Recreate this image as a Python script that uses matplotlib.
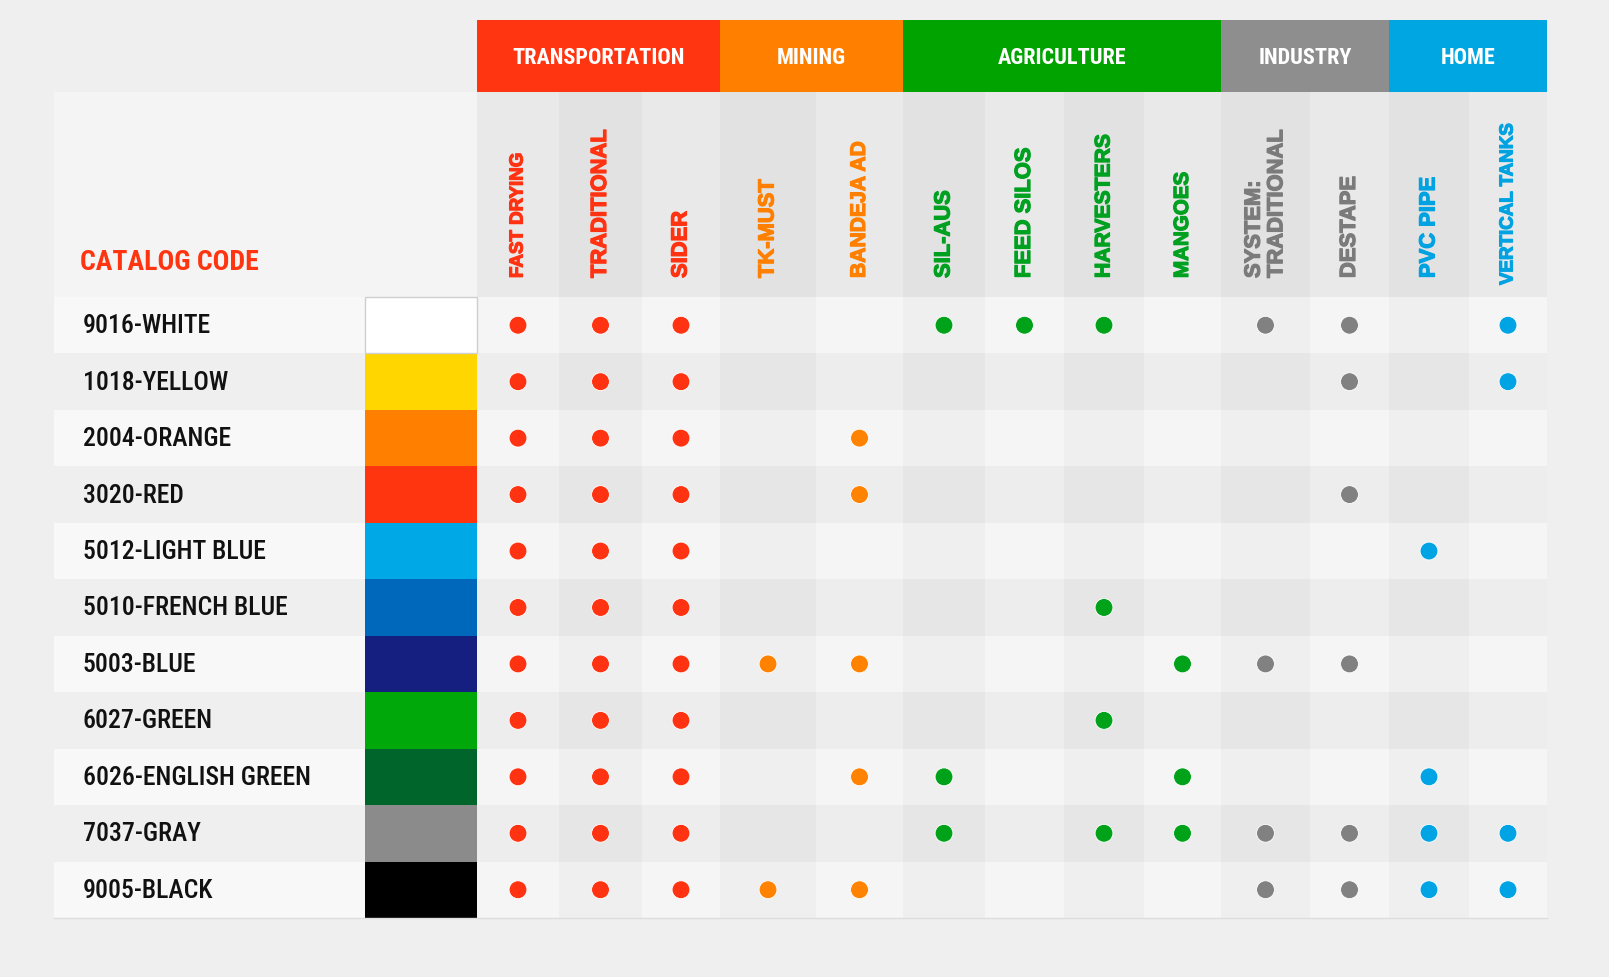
import matplotlib.pyplot as plt
import matplotlib.patheffects as pe
from matplotlib.patches import Rectangle

# ---------------- data ----------------
categories = ['TRANSPORTATION', 'MINING', 'AGRICULTURE', 'INDUSTRY', 'HOME']
category_colors = ['#ff3410', '#ff8000', '#00a300', '#8e8e8e', '#00a6e2']
label_colors = ['#ff3311', '#ff8000', '#00a020', '#7b7b7b', '#00a2e2']
dot_colors = ['#ff3311', '#ff8200', '#00a21a', '#818181', '#00a4e4']

# columns per category
columns = [
    ['FAST DRYING', 'TRADITIONAL', 'SIDER'],
    ['TK-MUST', 'BANDEJA AD'],
    ['SIL-AUS', 'FEED SILOS', 'HARVESTERS', 'MANGOES'],
    ['SYSTEM:\nTRADITIONAL', 'DESTAPE'],
    ['PVC PIPE', 'VERTICAL TANKS'],
]

codes = ['9016-WHITE', '1018-YELLOW', '2004-ORANGE', '3020-RED', '5012-LIGHT BLUE',
         '5010-FRENCH BLUE', '5003-BLUE', '6027-GREEN', '6026-ENGLISH GREEN',
         '7037-GRAY', '9005-BLACK']
swatches = ['#ffffff', '#ffd600', '#ff7f00', '#ff3510', '#00a8e6', '#0068bb',
            '#141f80', '#00a80a', '#00652a', '#8b8b8b', '#000000']

# which columns each colour is available for
available = [
    ['FAST DRYING', 'TRADITIONAL', 'SIDER', 'SIL-AUS', 'FEED SILOS', 'HARVESTERS',
     'SYSTEM:\nTRADITIONAL', 'DESTAPE', 'VERTICAL TANKS'],
    ['FAST DRYING', 'TRADITIONAL', 'SIDER', 'DESTAPE', 'VERTICAL TANKS'],
    ['FAST DRYING', 'TRADITIONAL', 'SIDER', 'BANDEJA AD'],
    ['FAST DRYING', 'TRADITIONAL', 'SIDER', 'BANDEJA AD', 'DESTAPE'],
    ['FAST DRYING', 'TRADITIONAL', 'SIDER', 'PVC PIPE'],
    ['FAST DRYING', 'TRADITIONAL', 'SIDER', 'HARVESTERS'],
    ['FAST DRYING', 'TRADITIONAL', 'SIDER', 'TK-MUST', 'BANDEJA AD', 'MANGOES',
     'SYSTEM:\nTRADITIONAL', 'DESTAPE'],
    ['FAST DRYING', 'TRADITIONAL', 'SIDER', 'HARVESTERS'],
    ['FAST DRYING', 'TRADITIONAL', 'SIDER', 'BANDEJA AD', 'SIL-AUS', 'MANGOES', 'PVC PIPE'],
    ['FAST DRYING', 'TRADITIONAL', 'SIDER', 'SIL-AUS', 'HARVESTERS', 'MANGOES',
     'SYSTEM:\nTRADITIONAL', 'DESTAPE', 'PVC PIPE', 'VERTICAL TANKS'],
    ['FAST DRYING', 'TRADITIONAL', 'SIDER', 'TK-MUST', 'BANDEJA AD',
     'SYSTEM:\nTRADITIONAL', 'DESTAPE', 'PVC PIPE', 'VERTICAL TANKS'],
]

# ---------------- layout (pixels) ----------------
W, H = 1609, 977
col_edges = [477, 559, 642, 720, 816, 903, 985, 1064, 1144, 1221, 1310, 1389, 1469, 1547]
table_left, swatch_left = 54, 365
band_top, header_top, header_bottom = 20, 92, 297
row_h = 56.45
# header labels are not all the same size in the original
label_size = {'FAST DRYING': 13.5, 'VERTICAL TANKS': 13.5, 'MANGOES': 14.8,
              'HARVESTERS': 15.2, 'BANDEJA AD': 15.2}
label_base = {'VERTICAL TANKS': 285}

cond = ['Roboto Condensed', 'Roboto']
wide = ['Liberation Sans', 'DejaVu Sans']

fig = plt.figure(figsize=(W / 100, H / 100), dpi=100, facecolor='#efefef')
ax = fig.add_axes([0, 0, 1, 1])
ax.set_xlim(0, W)
ax.set_ylim(H, 0)
ax.axis('off')

def box(x0, y0, x1, y1, color, **kw):
    ax.add_patch(Rectangle((x0, y0), x1 - x0, y1 - y0, facecolor=color, edgecolor='none', **kw))

# flatten columns
flat_cols, flat_cat = [], []
for ci, cols in enumerate(columns):
    for c in cols:
        flat_cols.append(c)
        flat_cat.append(ci)

# category band
k = 0
for ci, cat in enumerate(categories):
    n = len(columns[ci])
    x0, x1 = col_edges[k], col_edges[k + n]
    box(x0, band_top, x1, header_top, category_colors[ci])
    ax.text((x0 + x1) / 2, (band_top + header_top) / 2 + 2, cat, color='white',
            fontsize=16, fontweight='bold', family=cond, ha='center', va='center')
    k += n

# header row
box(table_left, header_top, col_edges[0], header_bottom, '#f4f4f4')
for j, name in enumerate(flat_cols):
    shade = '#e9e9e9' if j % 2 == 0 else '#e2e2e2'
    box(col_edges[j], header_top, col_edges[j + 1], header_bottom, shade)
    xc = (col_edges[j] + col_edges[j + 1]) / 2
    clr = label_colors[flat_cat[j]]
    # thin stroke in the same colour to get the heavier look of the original
    ax.text(xc, label_base.get(name, 278), name, rotation=90, ha='center', va='bottom',
            multialignment='left', linespacing=1.1, color=clr,
            fontsize=label_size.get(name, 15.8), fontweight='bold', family=wide,
            path_effects=[pe.withStroke(linewidth=0.9, foreground=clr)])

ax.text(80, 262, 'CATALOG CODE', color='#ff3410', fontsize=20, fontweight='bold',
        family=cond, ha='left', va='center')

# body rows
for i, code in enumerate(codes):
    y0 = header_bottom + i * row_h
    y1 = y0 + row_h
    yc = (y0 + y1) / 2
    light = i % 2 == 0
    box(table_left, y0, swatch_left, y1, '#f8f8f8' if light else '#efefef')
    for j in range(len(flat_cols)):
        if light:
            shade = '#f5f5f5' if j % 2 == 0 else '#efefef'
        else:
            shade = '#ededed' if j % 2 == 0 else '#e6e6e6'
        box(col_edges[j], y0, col_edges[j + 1], y1, shade)
    box(swatch_left, y0, col_edges[0], y1, swatches[i])
    ax.text(83, yc + 1, code, fontsize=18.5, fontweight='medium', family=cond,
            color='#111111', ha='left', va='center')

    xs, ys, cs = [], [], []
    for j, name in enumerate(flat_cols):
        if name in available[i]:
            xs.append((col_edges[j] + col_edges[j + 1]) / 2)
            ys.append(yc)
            cs.append(dot_colors[flat_cat[j]])
    ax.scatter(xs, ys, s=165, c=cs, edgecolors='white', linewidths=0.6, zorder=5)

# white swatch outline and table bottom edge
ax.add_patch(Rectangle((swatch_left, header_bottom), col_edges[0] - swatch_left, row_h,
                       facecolor='none', edgecolor='#cfcfcf', linewidth=1, zorder=4))
bottom = header_bottom + len(codes) * row_h
ax.plot([table_left, col_edges[-1]], [bottom, bottom], color='#dddddd', linewidth=1)

fig.savefig('out.png', dpi=100, facecolor=fig.get_facecolor())
